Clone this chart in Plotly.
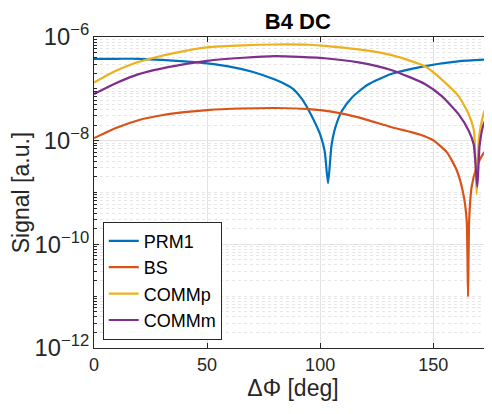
import plotly.graph_objects as go

# demodulation phase [deg] and signal [a.u.]
prm1_phase = [0, 10, 20, 30, 40, 50, 60, 70, 80, 85, 88, 92, 96, 98, 100, 102,
              103.5, 105, 106.7, 109.6, 114, 121, 131.7, 146.5, 161, 176]
prm1_sig = [3.80e-7, 3.80e-7, 3.80e-7, 3.63e-7, 3.39e-7, 3.09e-7, 2.69e-7, 2.14e-7,
            1.51e-7, 1.20e-7, 1.00e-7, 6.3e-8, 3.16e-8, 2.09e-8, 1.32e-8, 6.3e-9,
            1.51e-9, 7.9e-9, 1.78e-8, 3.72e-8, 6.76e-8, 1.20e-7, 1.95e-7, 2.75e-7,
            3.39e-7, 3.72e-7]

bs_phase = [0, 10, 20, 30, 40, 50, 65, 80, 95, 105, 117, 131.7, 144, 150, 156,
            160.4, 163.3, 164.8, 165.4, 165.9, 167, 169.2, 172.1, 176]
bs_sig = [1.12e-8, 1.78e-8, 2.51e-8, 3.09e-8, 3.55e-8, 3.89e-8, 4.17e-8, 4.27e-8,
          4.07e-8, 3.63e-8, 2.82e-8, 1.82e-8, 1.32e-8, 1.02e-8, 6.0e-9, 2.69e-9,
          9.5e-10, 2.9e-10, 9.8e-12, 2.9e-10, 1.29e-9, 3.09e-9, 5.6e-9, 8.5e-9]

commp_phase = [0, 8.7, 17.6, 26.4, 35.3, 50, 66, 80, 95, 102, 117, 131.7, 146.5,
               153.8, 161.2, 165.7, 168.0, 169.2, 170.2, 171.2, 172.5, 176]
commp_sig = [1.32e-7, 2.14e-7, 3.09e-7, 3.98e-7, 4.90e-7, 6.31e-7, 6.92e-7, 7.16e-7,
             7.08e-7, 6.76e-7, 5.75e-7, 4.47e-7, 2.69e-7, 1.51e-7, 7.24e-8, 3.24e-8,
             1.58e-8, 9.3e-10, 1.12e-8, 2.09e-8, 3.55e-8, 7.59e-8]

commm_phase = [0, 8.7, 17.6, 26.4, 35.3, 50, 66, 80, 88, 102, 117, 131.7, 146.5,
               153.8, 161.2, 165.7, 167.9, 169.5, 170.5, 172.3, 176]
commm_sig = [7.94e-8, 1.23e-7, 1.78e-7, 2.29e-7, 2.75e-7, 3.47e-7, 3.98e-7, 4.27e-7,
             4.17e-7, 3.89e-7, 3.24e-7, 2.29e-7, 1.23e-7, 7.24e-8, 3.24e-8, 1.55e-8,
             8.5e-9, 1.29e-9, 7.9e-9, 2.09e-8, 4.17e-8]

series = [("PRM1", prm1_phase, prm1_sig, "#0072BD"),
          ("BS", bs_phase, bs_sig, "#D95319"),
          ("COMMp", commp_phase, commp_sig, "#EDB120"),
          ("COMMm", commm_phase, commm_sig, "#7E2F8E")]

fig = go.Figure()
for name, x, y, col in series:
    fig.add_trace(go.Scatter(x=x, y=y, name=name, mode="lines",
                             line=dict(color=col, width=2.2, shape="spline", smoothing=0.6)))

# the page body has an 8px margin, so the figure is sized to what stays visible
W, H = 484, 406
axcol = "#262626"
fig.update_layout(
    width=W, height=H,
    margin=dict(l=86, r=0, t=29, b=66),
    paper_bgcolor="white", plot_bgcolor="white",
    font=dict(family="Liberation Sans, Arial, sans-serif", color=axcol, size=18),
    title=dict(text="<b>B4 DC</b>", x=0.512, xref="paper", y=1 - 13 / H,
               yref="container", xanchor="center", yanchor="middle",
               font=dict(size=22, color="black"), automargin=False),
    showlegend=True,
    legend=dict(x=0.022, y=0.027, xanchor="left", yanchor="bottom",
                bgcolor="white", bordercolor=axcol, borderwidth=1,
                font=dict(size=18, color="black"), tracegroupgap=0,
                itemwidth=30),
)
fig.update_xaxes(range=[0, 176], tickvals=[0, 50, 100, 150], automargin=False,
                 showline=True, linecolor=axcol, linewidth=1, mirror="ticks",
                 ticks="inside", ticklen=5, tickcolor=axcol,
                 showgrid=True, gridcolor="#e3e3e3", zeroline=False,
                 tickfont=dict(size=18),
                 title=dict(text="ΔΦ [deg]", font=dict(size=23), standoff=6))
fig.update_yaxes(type="log", range=[-12, -6], dtick=2, tick0=0, automargin=False,
                 exponentformat="power", showexponent="all",
                 showline=True, linecolor=axcol, linewidth=1, mirror=False,
                 ticks="inside", ticklen=5, tickcolor=axcol,
                 showgrid=True, gridcolor="#e3e3e3", zeroline=False,
                 tickfont=dict(size=19),
                 minor=dict(dtick="D1", ticks="inside", ticklen=3, tickcolor=axcol,
                            showgrid=True, gridcolor="#e6e6e6", griddash="dot"),
                 title=dict(text="Signal [a.u.]", font=dict(size=23), standoff=4))

fig.write_html("out.html")
